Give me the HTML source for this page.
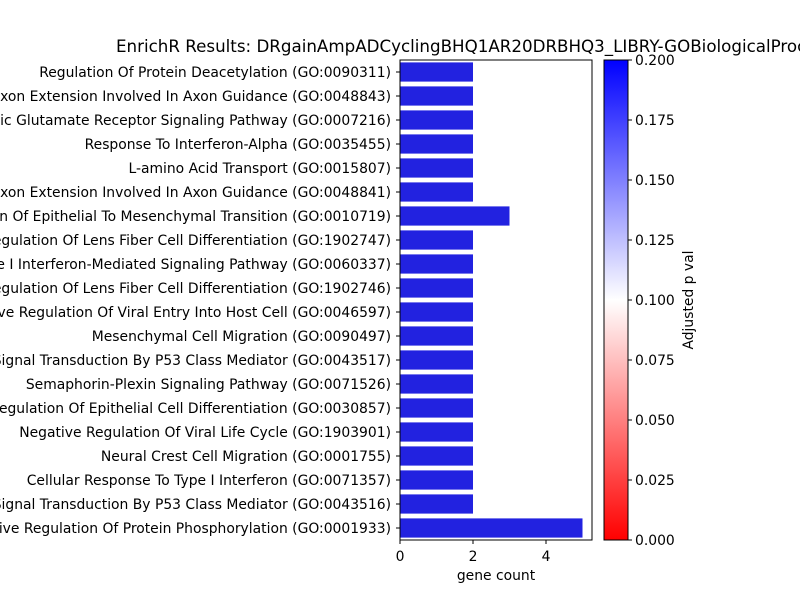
<!DOCTYPE html>
<html><head><meta charset="utf-8"><style>
body{margin:0;background:#fff;overflow:hidden;}
svg{display:block;font-family:"DejaVu Sans","Liberation Sans",sans-serif;}
</style></head><body>
<svg id="chart" width="800" height="600" viewBox="0 0 800 600">
<defs><linearGradient id="bwr" x1="0" y1="1" x2="0" y2="0">
<stop offset="0" stop-color="#ff0000"/><stop offset="0.5" stop-color="#ffffff"/><stop offset="1" stop-color="#0000ff"/>
</linearGradient></defs>
<text x="116" y="52" font-size="16.7">EnrichR Results: DRgainAmpADCyclingBHQ1AR20DRBHQ3_LIBRY-GOBiologicalProcess</text>
<g id="bars"></g>
<rect x="400" y="60" width="192" height="480" fill="none" stroke="#000" stroke-width="1"/>
<g id="xaxis"></g>
<text x="496" y="580" font-size="13.9" text-anchor="middle">gene count</text>
<rect x="604" y="60" width="24" height="480" fill="url(#bwr)" stroke="#000" stroke-width="1"/>
<g id="cbaxis"></g>
<text transform="translate(693,300) rotate(-90)" font-size="13.9" text-anchor="middle">Adjusted p val</text>
</svg>
<script>
const categories=["Regulation Of Protein Deacetylation (GO:0090311)","Axon Extension Involved In Axon Guidance (GO:0048843)","Ionotropic Glutamate Receptor Signaling Pathway (GO:0007216)","Response To Interferon-Alpha (GO:0035455)","L-amino Acid Transport (GO:0015807)","Axon Extension Involved In Axon Guidance (GO:0048841)","Regulation Of Epithelial To Mesenchymal Transition (GO:0010719)","Regulation Of Lens Fiber Cell Differentiation (GO:1902747)","Type I Interferon-Mediated Signaling Pathway (GO:0060337)","Regulation Of Lens Fiber Cell Differentiation (GO:1902746)","Negative Regulation Of Viral Entry Into Host Cell (GO:0046597)","Mesenchymal Cell Migration (GO:0090497)","Signal Transduction By P53 Class Mediator (GO:0043517)","Semaphorin-Plexin Signaling Pathway (GO:0071526)","Regulation Of Epithelial Cell Differentiation (GO:0030857)","Negative Regulation Of Viral Life Cycle (GO:1903901)","Neural Crest Cell Migration (GO:0001755)","Cellular Response To Type I Interferon (GO:0071357)","Signal Transduction By P53 Class Mediator (GO:0043516)","Negative Regulation Of Protein Phosphorylation (GO:0001933)"];
const counts=[2,2,2,2,2,2,3,2,2,2,2,2,2,2,2,2,2,2,2,5];
const xTicks=[0,2,4];
const cbTicks=[0,0.025,0.05,0.075,0.1,0.125,0.15,0.175,0.2];
const cbLabels=["0.000","0.025","0.050","0.075","0.100","0.125","0.150","0.175","0.200"];
const NS="http://www.w3.org/2000/svg";
const xs=v=>400+v*36.5;
const rowH=480/categories.length;
const ys=i=>60+i*rowH;
const cy=v=>540-v/0.2*480;
const bars=document.getElementById('bars');
categories.forEach((c,i)=>{
 const r=document.createElementNS(NS,'rect');
 r.setAttribute('x',xs(0));r.setAttribute('y',ys(i)+rowH*0.1);
 r.setAttribute('width',xs(counts[i])-xs(0));r.setAttribute('height',rowH*0.8);
 r.setAttribute('fill','#2222e0');
 
 
 bars.appendChild(r);
 const t=document.createElementNS(NS,'line');
 t.setAttribute('x1',396);t.setAttribute('x2',400);t.setAttribute('y1',ys(i)+rowH/2);t.setAttribute('y2',ys(i)+rowH/2);t.setAttribute('stroke','#000');
 bars.appendChild(t);
 const l=document.createElementNS(NS,'text');
 l.setAttribute('x',391);l.setAttribute('y',ys(i)+rowH/2+5);l.setAttribute('font-size','13.9');l.setAttribute('text-anchor','end');
 l.textContent=c;
 
 
 bars.appendChild(l);
});
const xa=document.getElementById('xaxis');
xTicks.forEach(v=>{
 const t=document.createElementNS(NS,'line');
 t.setAttribute('x1',xs(v));t.setAttribute('x2',xs(v));t.setAttribute('y1',540);t.setAttribute('y2',544);t.setAttribute('stroke','#000');
 xa.appendChild(t);
 const l=document.createElementNS(NS,'text');
 l.setAttribute('x',xs(v));l.setAttribute('y',561);l.setAttribute('font-size','13.9');l.setAttribute('text-anchor','middle');
 l.textContent=v;
 
 
 xa.appendChild(l);
});
const ca=document.getElementById('cbaxis');
cbTicks.forEach((v,i)=>{
 const t=document.createElementNS(NS,'line');
 t.setAttribute('x1',628);t.setAttribute('x2',632);t.setAttribute('y1',cy(v));t.setAttribute('y2',cy(v));t.setAttribute('stroke','#000');
 ca.appendChild(t);
 const l=document.createElementNS(NS,'text');
 l.setAttribute('x',635);l.setAttribute('y',cy(v)+5);l.setAttribute('font-size','13.9');
 l.textContent=cbLabels[i];
 
 
 ca.appendChild(l);
});
</script>
</body></html>
